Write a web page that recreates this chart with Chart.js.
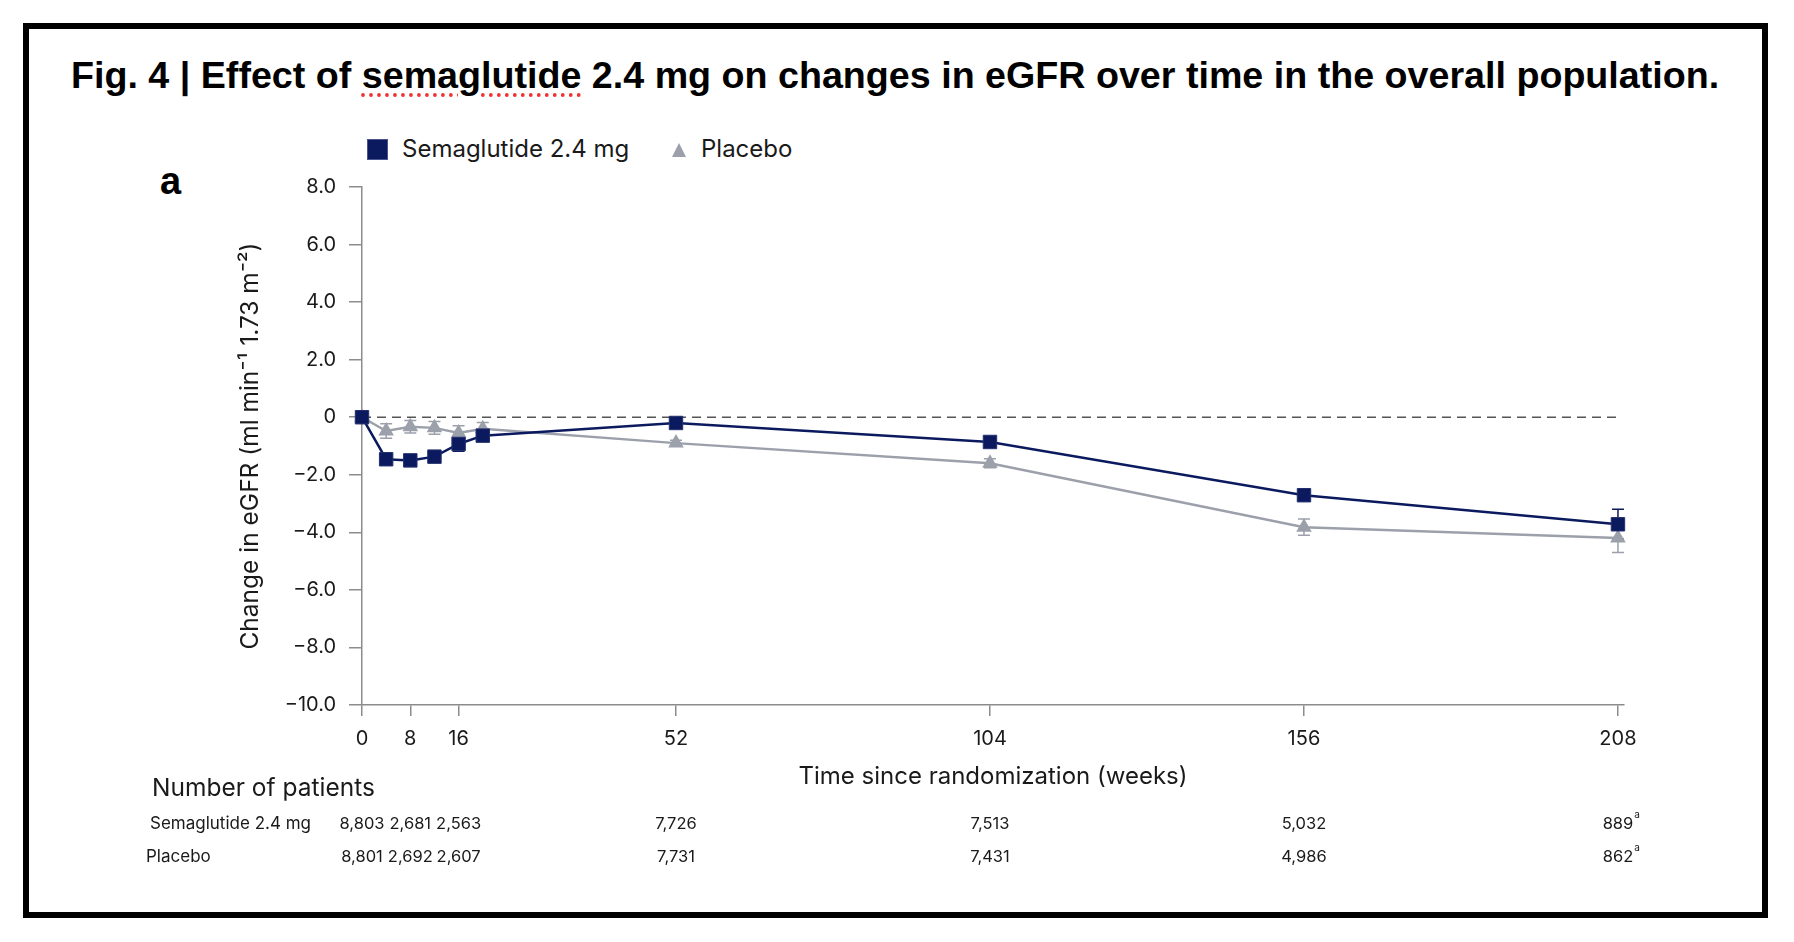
<!DOCTYPE html>
<html>
<head>
<meta charset="utf-8">
<script src="https://cdn.jsdelivr.net/npm/chart.js@4.4.1/dist/chart.umd.min.js"></script>
<style>
  html, body { margin: 0; padding: 0; background: #fff; }
  body { width: 1794px; height: 942px; position: relative; overflow: hidden; }
  #frame { position: absolute; left: 23px; top: 23px; width: 1745px; height: 895px;
           border: 6px solid #000; box-sizing: border-box; }
  #title { position: absolute; left: 71px; top: 54px; white-space: nowrap;
           font-family: "Liberation Sans", Arial, sans-serif; font-weight: bold; font-size: 36px; color: #000; }
  #title .sp { text-decoration: underline dotted #e33; text-underline-offset: 6px; }
  #panel { position: absolute; left: 160px; top: 160px; font-family: "Liberation Sans", Arial, sans-serif;
           font-weight: bold; font-size: 38px; color: #000; }
  .leg { position: absolute; font-family: Inter, "Noto Sans", sans-serif; font-size: 24px; color: #1a1a1a; top: 134px; }
  #sqr { position: absolute; left: 367px; top: 139px; width: 19px; height: 19px; background: #0b1a5e; border: 1px solid #4a5590; }
  #tri { position: absolute; left: 672px; top: 143px; width: 0; height: 0;
         border-left: 7.5px solid transparent; border-right: 7.5px solid transparent; border-bottom: 14px solid #9ba0aa; }
  canvas { position: absolute; left: 0; top: 0; }
</style>
</head>
<body>
<div id="frame"></div>
<div id="title">Fig. 4 | Effect of <span class="sp">semaglutide</span> 2.4 mg on changes in eGFR over time in the overall population.</div>
<div id="panel">a</div>
<div id="sqr"></div><div class="leg" style="left:402px">Semaglutide 2.4 mg</div>
<div id="tri"></div><div class="leg" style="left:701px">Placebo</div>
<canvas id="chart" width="1794" height="942"></canvas>
<script>
// chart values
const weeks = [0, 4, 8, 12, 16, 20, 52, 104, 156, 208];
const semaValues = [0, -1.46, -1.50, -1.37, -0.93, -0.64, -0.20, -0.86, -2.71, -3.72];
const semaErrors = [0, 0.12, 0.12, 0.13, 0.25, 0.12, 0.08, 0.12, 0.18, 0.52];
const placeboValues = [0, -0.48, -0.33, -0.37, -0.55, -0.40, -0.90, -1.60, -3.82, -4.20];
const placeboErrors = [0, 0.25, 0.22, 0.22, 0.25, 0.22, 0.10, 0.16, 0.28, 0.50];

const xTicks = [0, 8, 16, 52, 104, 156, 208];
const yTicks = [8, 6, 4, 2, 0, -2, -4, -6, -8, -10];

const countWeeks = [0, 8, 16, 52, 104, 156, 208];
const semaCounts = ['8,803', '2,681', '2,563', '7,726', '7,513', '5,032', '889'];
const placeboCounts = ['8,801', '2,692', '2,607', '7,731', '7,431', '4,986', '862'];
const footnoted = [false, false, false, false, false, false, true];

const NAVY = '#0b1a5e';
const GREY = '#9ba0aa';
const AXIS = '#8c8c8c';
const TXT = '#1a1a1a';
const FONT = 'Inter, "Noto Sans", sans-serif';

// fit the title to the width seen in the figure
(function fitTitle() {
    const t = document.getElementById('title');
    const w = t.getBoundingClientRect().width;
    t.style.fontSize = (36 * 1649 / w) + 'px';
})();

function pts(vals) {
    return weeks.map((w, i) => ({ x: w, y: vals[i] }));
}

// error bars, drawn under the markers
const errorBars = {
    id: 'errorBars',
    beforeDatasetsDraw(chart) {
        const ctx = chart.ctx;
        const xs = chart.scales.x, ys = chart.scales.y;
        const sets = [[semaValues, semaErrors, NAVY], [placeboValues, placeboErrors, GREY]];
        ctx.save();
        ctx.lineWidth = 1.5;
        sets.forEach(([vals, errs, col]) => {
            ctx.strokeStyle = col;
            weeks.forEach((w, i) => {
                if (!errs[i]) return;
                const px = xs.getPixelForValue(w);
                const top = ys.getPixelForValue(vals[i] + errs[i]);
                const bot = ys.getPixelForValue(vals[i] - errs[i]);
                ctx.beginPath();
                ctx.moveTo(px, top); ctx.lineTo(px, bot);
                ctx.moveTo(px - 6, top); ctx.lineTo(px + 6, top);
                ctx.moveTo(px - 6, bot); ctx.lineTo(px + 6, bot);
                ctx.stroke();
            });
        });
        ctx.restore();
    }
};

// number-at-risk table under the x axis
const countTable = {
    id: 'countTable',
    afterDraw(chart) {
        const ctx = chart.ctx;
        const xs = chart.scales.x;
        ctx.save();
        ctx.fillStyle = TXT;
        ctx.textBaseline = 'middle';
        ctx.textAlign = 'left';
        ctx.font = '24.5px ' + FONT;
        ctx.fillText('Number of patients', 152, 789);
        ctx.font = '17px ' + FONT;
        ctx.fillText('Semaglutide 2.4 mg', 150, 824);
        ctx.fillText('Placebo', 146, 857);
        const rows = [[semaCounts, 824], [placeboCounts, 857]];
        rows.forEach(([vals, y]) => {
            countWeeks.forEach((w, i) => {
                const px = xs.getPixelForValue(w);
                ctx.font = '16.5px ' + FONT;
                ctx.textAlign = 'center';
                ctx.fillText(vals[i], px, y);
                if (footnoted[i]) {
                    const half = ctx.measureText(vals[i]).width / 2;
                    ctx.font = '10px ' + FONT;
                    ctx.textAlign = 'left';
                    ctx.fillText('a', px + half + 1, y - 9);
                }
            });
        });
        ctx.restore();
    }
};

new Chart(document.getElementById('chart'), {
    type: 'line',
    data: {
        datasets: [
            {
                label: 'Semaglutide 2.4 mg',
                data: pts(semaValues),
                borderColor: NAVY,
                backgroundColor: NAVY,
                borderWidth: 2.5,
                pointStyle: 'rect',
                pointRadius: 9.5,
                pointBorderWidth: 1,
                pointBorderColor: '#24306e',
                tension: 0,
                clip: false
            },
            {
                label: 'Placebo',
                data: pts(placeboValues),
                borderColor: GREY,
                backgroundColor: GREY,
                borderWidth: 2.5,
                pointStyle: 'triangle',
                pointRadius: 9,
                pointBorderWidth: 0,
                tension: 0,
                clip: false
            },
            {
                label: 'zero',
                data: [{ x: 0, y: 0 }, { x: 208, y: 0 }],
                borderColor: '#555',
                borderWidth: 1.6,
                borderDash: [9, 6],
                pointRadius: 0
            }
        ]
    },
    options: {
        responsive: false,
        animation: false,
        devicePixelRatio: 1,
        layout: { padding: { left: 232, right: 170, top: 187, bottom: 147 } },
        plugins: {
            legend: { display: false },
            tooltip: { enabled: false }
        },
        scales: {
            x: {
                type: 'linear',
                min: 0,
                max: 209,
                afterFit: s => { s.height = 90; },
                afterBuildTicks: s => { s.ticks = xTicks.map(v => ({ value: v })); },
                grid: { drawOnChartArea: false, drawTicks: true, tickLength: 11, color: AXIS, lineWidth: 1.5 },
                border: { color: AXIS, width: 1.5 },
                ticks: { color: TXT, padding: 11, font: { family: FONT, size: 20 }, maxRotation: 0, autoSkip: false },
                title: {
                    display: true,
                    text: 'Time since randomization (weeks)',
                    color: TXT,
                    font: { family: FONT, size: 24 },
                    padding: { top: 0, bottom: 4 }
                }
            },
            y: {
                type: 'linear',
                min: -10,
                max: 8,
                afterFit: s => { s.width = 130; },
                afterBuildTicks: s => { s.ticks = yTicks.map(v => ({ value: v })); },
                grid: { drawOnChartArea: false, drawTicks: true, tickLength: 13, color: AXIS, lineWidth: 1.5 },
                border: { color: AXIS, width: 1.5 },
                ticks: {
                    color: TXT,
                    padding: 13,
                    font: { family: FONT, size: 20 },
                    callback: v => v === 0 ? '0' : (v < 0 ? '\u2212' : '') + Math.abs(v).toFixed(1)
                },
                title: {
                    display: true,
                    text: 'Change in eGFR (ml min\u207B\u00B9 1.73 m\u207B\u00B2)',
                    color: TXT,
                    font: { family: FONT, size: 24.5 },
                    padding: { top: 4, bottom: 0 }
                }
            }
        }
    },
    plugins: [errorBars, countTable]
});
</script>
</body>
</html>
